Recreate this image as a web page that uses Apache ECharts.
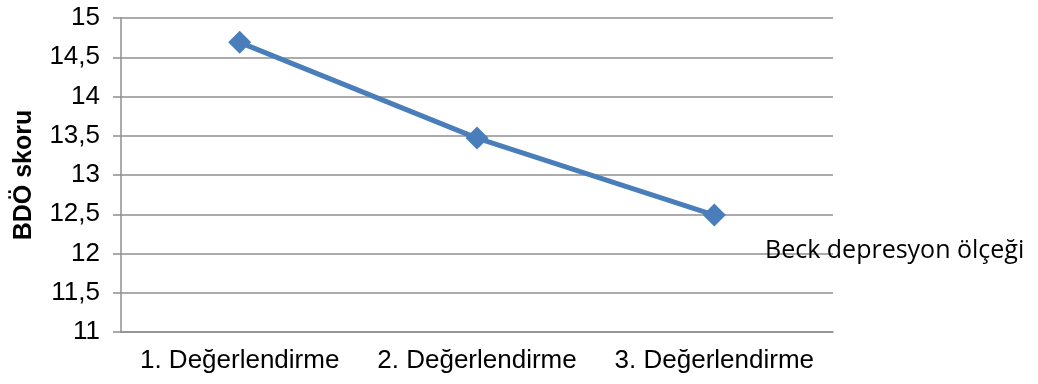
<!DOCTYPE html>
<html>
<head>
<meta charset="utf-8">
<script src="https://cdn.jsdelivr.net/npm/echarts@6/dist/echarts.min.js"></script>
<style>
  html, body { margin: 0; padding: 0; background: #fff; }
  #chart { width: 1038px; height: 384px; }
</style>
</head>
<body>
<div id="chart"></div>
<script>
// Beck Depresyon Ölçeği ortalama skorları, üç değerlendirme
const categories = ['1. Değerlendirme', '2. Değerlendirme', '3. Değerlendirme'];
const seriesName = 'Beck depresyon ölçeği';
const bdoScores = [14.69, 13.47, 12.49];
const yMin = 11, yMax = 15, yStep = 0.5;

const axisGray = '#8f8f8f';
const labelFont = '"Liberation Sans", Arial, sans-serif';

const chart = echarts.init(document.getElementById('chart'), null, { renderer: 'canvas' });
chart.setOption({
  animation: false,
  backgroundColor: '#ffffff',
  grid: { left: 121, right: 205, top: 18, bottom: 52, containLabel: false, outerBoundsMode: 'none' },
  legend: {
    data: [{ name: seriesName, icon: 'none' }],
    left: 755, top: 233,
    itemWidth: 0, itemHeight: 0,
    textStyle: { fontFamily: '"Open Sans", "Noto Sans", sans-serif', fontSize: 25, color: '#000' }
  },
  xAxis: {
    type: 'category',
    data: categories,
    boundaryGap: true,
    axisLine: { show: true, lineStyle: { color: axisGray, width: 1.5 } },
    axisTick: { show: false },
    axisLabel: { interval: 0, margin: 16, color: '#000', fontFamily: labelFont, fontSize: 26 },
    splitLine: { show: false }
  },
  yAxis: {
    type: 'value',
    min: yMin, max: yMax, interval: yStep,
    name: 'BDÖ skoru',
    nameLocation: 'middle',
    nameGap: 84,
    nameTextStyle: { color: '#000', fontFamily: labelFont, fontSize: 25, fontWeight: 'bold' },
    axisLine: { show: true, lineStyle: { color: axisGray, width: 1.5 } },
    axisTick: { show: true, inside: false, length: 8, lineStyle: { color: axisGray, width: 1.5 } },
    axisLabel: {
      margin: 21, color: '#000', fontFamily: labelFont, fontSize: 26,
      formatter: v => String(v).replace('.', ',')
    },
    splitLine: { show: true, lineStyle: { color: axisGray, width: 1.5 } }
  },
  series: [{
    name: seriesName,
    type: 'line',
    data: bdoScores,
    symbol: 'diamond',
    symbolSize: 23,
    lineStyle: { color: '#4a7ebb', width: 5 },
    itemStyle: { color: '#4a7ebb' }
  }]
});
</script>
</body>
</html>
